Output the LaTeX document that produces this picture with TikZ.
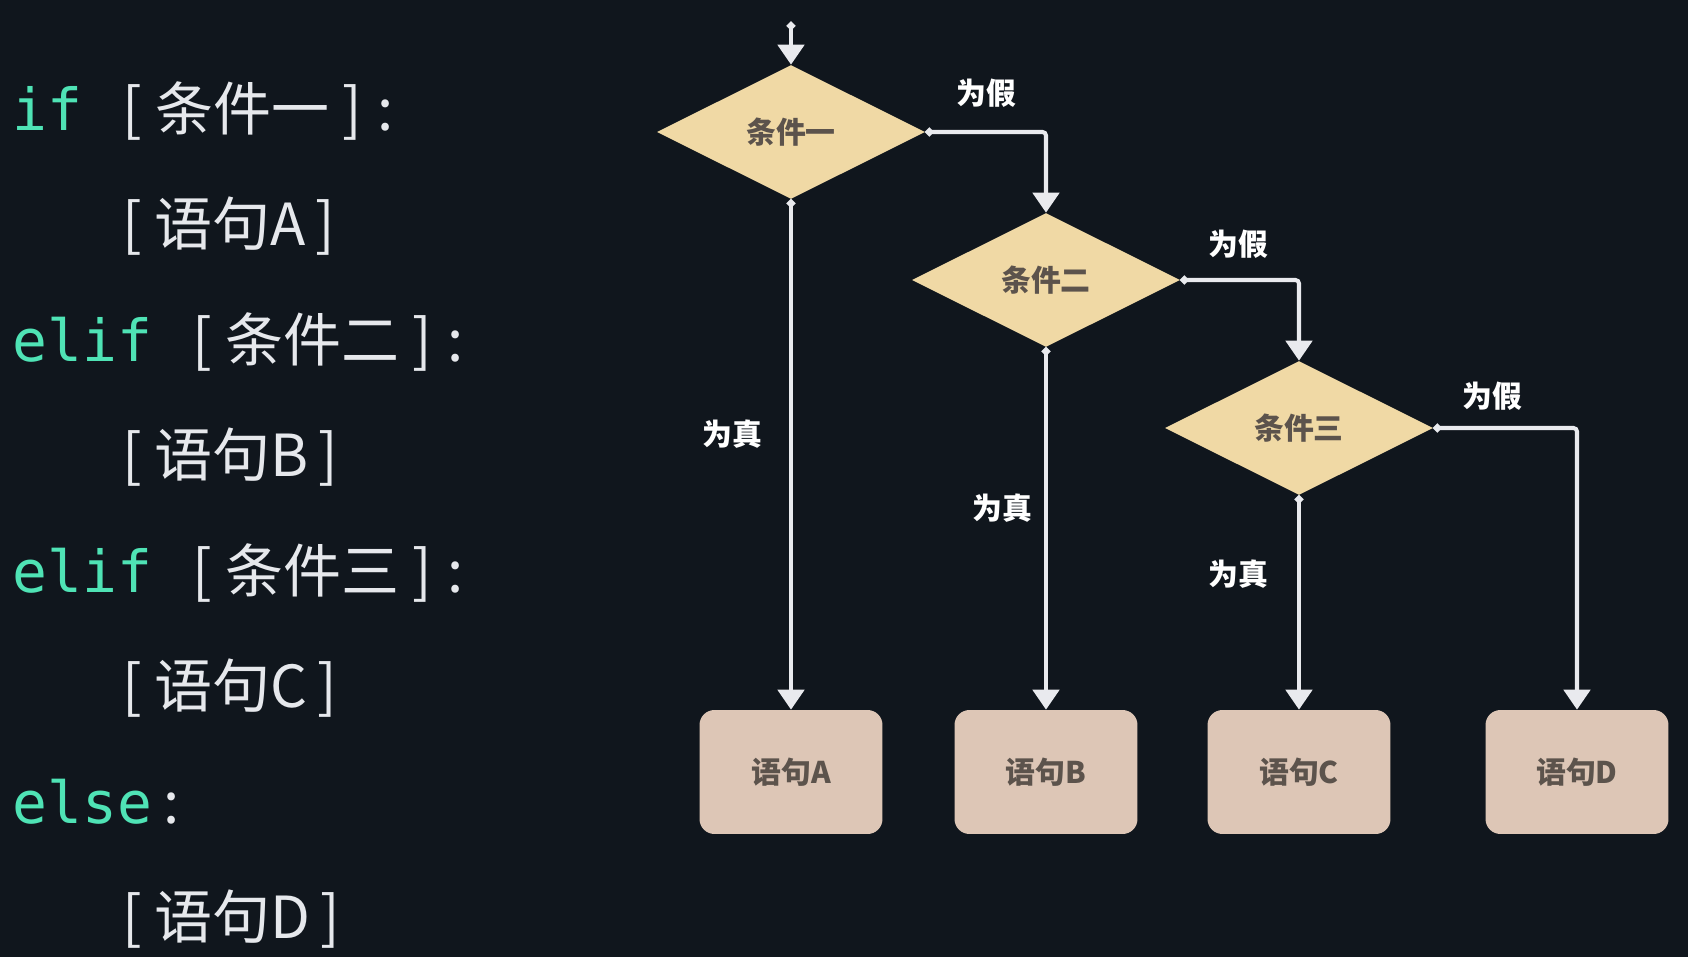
\documentclass[tikz,border=0pt]{standalone}
\usepackage{fontspec}
\newfontfamily\cjk{Noto Sans CJK SC}
\newfontfamily\monofont{DejaVu Sans Mono}
\usetikzlibrary{shapes.geometric, arrows.meta}

\definecolor{bgdark}{HTML}{10161D}
\definecolor{kwgreen}{HTML}{4FE3B5}
\definecolor{codewhite}{HTML}{E6E8EC}
\definecolor{condfill}{HTML}{F0D9A5}
\definecolor{stmtfill}{HTML}{DDC6B6}
\definecolor{inkgray}{HTML}{5C534C}
\definecolor{linewhite}{HTML}{E9EAEE}

\begin{document}
\begin{tikzpicture}[x=0.02cm, y=-0.02cm]
\fill[bgdark] (0,0) rectangle (1688,957);
\useasboundingbox (0,0) rectangle (1688,957);


\tikzset{KeyStyle/.style = {anchor=base west, inner sep=0pt, text=kwgreen,
 font=\monofont\fontsize{33}{40}\selectfont} }
\tikzset{CodeStyle/.style = {anchor=base west, inner sep=0pt, text=codewhite,
 font=\cjk\fontsize{33}{40}\selectfont} }

\node[KeyStyle] (K1) at (12, 130) {if};
\node[CodeStyle] (P1) at (122, 130) {[\hspace{8pt}条件一\hspace{7pt}]\hspace{9pt}:};
\node[CodeStyle] (P2) at (122, 245) {[\hspace{7pt}语句A\hspace{6pt}]};
\node[KeyStyle] (K2) at (12, 361) {elif};
\node[CodeStyle] (P3) at (192, 361) {[\hspace{8pt}条件二\hspace{7pt}]\hspace{9pt}:};
\node[CodeStyle] (P4) at (122, 476) {[\hspace{7pt}语句B\hspace{6pt}]};
\node[KeyStyle] (K3) at (12, 592) {elif};
\node[CodeStyle] (P5) at (192, 592) {[\hspace{8pt}条件三\hspace{7pt}]\hspace{9pt}:};
\node[CodeStyle] (P6) at (122, 707) {[\hspace{7pt}语句C\hspace{6pt}]};
\node[KeyStyle] (K4) at (12, 823) {else};
\node[CodeStyle] (P7) at (163, 823) {:};
\node[CodeStyle] (P8) at (122, 938) {[\hspace{7pt}语句D\hspace{6pt}]};


\tikzset{CondStyle/.style = {
 shape = diamond,
 fill = condfill,
 text = inkgray,
 font = \cjk\bfseries\fontsize{17}{20}\selectfont,
 aspect = 2,
 inner sep = 0pt,
 minimum width = 5.36cm,
 minimum height = 2.68cm} }
\tikzset{StmtStyle/.style = {
 shape = rectangle,
 rounded corners = 8.5pt,
 fill = stmtfill,
 text = inkgray,
 font = \cjk\bfseries\fontsize{17}{20}\selectfont,
 minimum width = 3.66cm,
 minimum height = 2.48cm} }
\tikzset{LabelStyle/.style = {text = white, font = \cjk\bfseries\fontsize{17}{20}\selectfont} }

\coordinate (T0) at (791, 22);
\node[CondStyle] (C1) at (791, 132) {条件一};
\node[CondStyle] (C2) at (1046, 280) {条件二};
\node[CondStyle] (C3) at (1299, 428) {条件三};
\node[StmtStyle] (S1) at (791, 772) {语句A};
\node[StmtStyle] (S2) at (1046, 772) {语句B};
\node[StmtStyle] (S3) at (1299, 772) {语句C};
\node[StmtStyle] (S4) at (1577, 772) {语句D};

\node[LabelStyle] (L1) at (986, 93) {为假};
\node[LabelStyle] (L2) at (1238, 244) {为假};
\node[LabelStyle] (L3) at (1492, 396) {为假};
\node[LabelStyle] (L4) at (732, 434) {为真};
\node[LabelStyle] (L5) at (1002, 508) {为真};
\node[LabelStyle] (L6) at (1238, 574) {为真};


\tikzset{EdgeStyle/.style = {draw = linewhite, line width = 2.3pt, rounded corners = 2pt,
 {Circle[length=4.5pt]}-{Triangle[width=15pt, length=11.4pt]}} }

\draw[EdgeStyle] (T0) -- (C1.north);
\draw[EdgeStyle] (C1.south) -- (S1.north);
\draw[EdgeStyle] (C2.south) -- (S2.north);
\draw[EdgeStyle] (C3.south) -- (S3.north);
\draw[EdgeStyle] (C1.east) -| (C2.north);
\draw[EdgeStyle] (C2.east) -| (C3.north);
\draw[EdgeStyle] (C3.east) -| (S4.north);

\end{tikzpicture}
\end{document}
